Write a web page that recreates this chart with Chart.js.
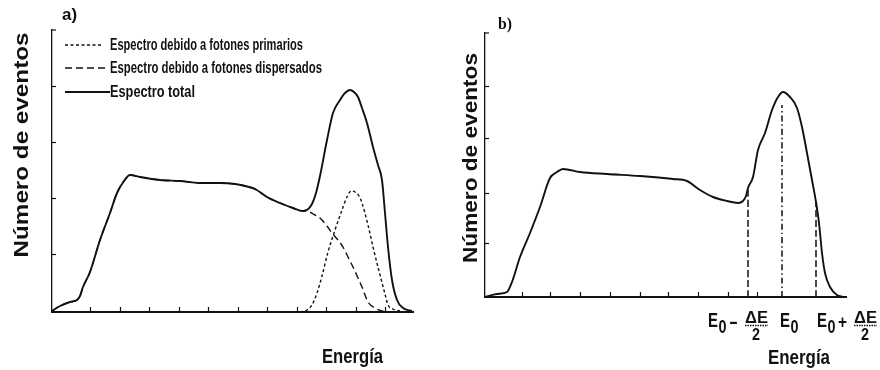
<!DOCTYPE html>
<html><head><meta charset="utf-8">
<script src="https://cdn.jsdelivr.net/npm/chart.js@4.4.1/dist/chart.umd.min.js"></script>
<style>
html,body{margin:0;padding:0;background:#fff;width:880px;height:370px;overflow:hidden}
.box{position:absolute;top:0;width:440px;height:370px}
#ba{left:0}#bb{left:440px}
</style></head><body>
<div class="box" id="ba"><canvas id="ca" width="440" height="370"></canvas></div>
<div class="box" id="bb"><canvas id="cb" width="440" height="370"></canvas></div>
<script>
// ---------- Panel a) ----------
const energyTotalA = [0,8,18,25,28,31,38,48,58,65,72,78,88,108,128,148,168,183,193,203,215,228,241,251,255,260,264,268,275,281,288,293,298,302,306,310,315,321,326,330,333,336,340,345,351,360];
const countsTotalA = [1,6,10,12,16,25,40,72,99,119,131,137,135,132,131,129,129,128,126,123,115,109,104,101,102,108,119,136,172,199,212,219,222,220,215,204,189,165,147,132,99,65,32,12,4,1];
const energyScatA = [0,8,18,25,28,31,38,48,58,65,72,78,88,108,128,148,168,183,193,203,215,228,241,251,255,258,261,268,275,280,286,291,296,301,306,310,316,323,330,336];
const countsScatA = [1,6,10,12,16,25,40,72,99,119,131,137,135,132,131,129,129,128,126,123,115,109,104,101,102,100,98,94,86,79,72,65,55,45,34,25,10,4,1,0];
const energyPrimA = [248,255,260,265,270,276,283,290,295,299,303,307,310,316,321,328,333,336,341,348];
const countsPrimA = [0,2,7,19,36,60,82,102,115,121,120,116,109,87,65,37,18,7,3,1];
const xTicksA = [38,68,97,127,156,186,215,245,274,304,333];
const yTicksA = [58,114,170,226];
const seriesNamesA = ['Espectro debido a fotones primarios','Espectro debido a fotones dispersados','Espectro total'];

// ---------- Panel b) ----------
const energyB = [0,12,22,27,35,45,55,65,72,78,95,122,155,188,202,215,228,242,253,258,261,263,268,273,280,287,293,298,305,312,317,322,327,331,334,337,340,345,352,358];
const countsB = [0,3,5,15,40,64,90,119,125,128,125,123,121,118,116,107,100,96,94,96,101,109,120,147,164,187,200,205,200,189,170,144,117,95,74,44,24,10,2,0];
const markerEnergyB = [263,297,331];
const markerHeightB = [109,192,95];
const markerBase = ['E','E','E'];
const markerSub = ['0','0','0'];
const markerOp = ['-','','+'];
const markerNum = ['ΔE','','ΔE'];
const markerDen = ['2','','2'];
const xTicksB = [37,65,95,125,155,183,213,243,272];
const yTicksB = [54,104,159,211];

const yTitle = 'Número de eventos';
const xTitle = 'Energía';

const zip = (xs, ys) => xs.map((x, i) => ({x, y: ys[i]}));
const INK = '#111111';
const SANS = '"Liberation Sans", Arial, sans-serif';

function drawText(ctx, t) {
  ctx.save();
  ctx.font = t.font;
  ctx.fillStyle = INK;
  ctx.textBaseline = 'alphabetic';
  ctx.textAlign = 'left';
  const m = ctx.measureText(t.t).width;
  const sx = t.w ? t.w / m : 1;
  ctx.translate(t.x, t.y);
  if (t.rot) ctx.rotate(t.rot);
  ctx.scale(sx, 1);
  ctx.fillText(t.t, t.center ? -m / 2 : 0, 0);
  ctx.restore();
}

const decor = {
  id: 'decor',
  afterDraw(chart, args, o) {
    const ctx = chart.ctx, xs = chart.scales.x, ys = chart.scales.y;
    ctx.save();
    ctx.strokeStyle = INK;
    ctx.lineWidth = 1.2;
    (o.ticksX || []).forEach(v => {
      const p = Math.round(xs.getPixelForValue(v)) + 0.5;
      ctx.beginPath(); ctx.moveTo(p, ys.bottom); ctx.lineTo(p, ys.bottom - 5); ctx.stroke();
    });
    (o.ticksY || []).forEach(v => {
      const p = Math.round(ys.getPixelForValue(v)) + 0.5;
      ctx.beginPath(); ctx.moveTo(xs.left, p); ctx.lineTo(xs.left + 4, p); ctx.stroke();
    });
    ctx.beginPath(); ctx.moveTo(xs.left, ys.top); ctx.lineTo(xs.left + 4, ys.top); ctx.stroke();
    ctx.restore();
    (o.texts || []).forEach(t => drawText(ctx, t));
    if (o.legend) {
      const L = o.legend;
      chart.data.datasets.forEach((ds, i) => {
        if (ds.legendSkip) return;
        const y = L.rows[i];
        ctx.save();
        ctx.strokeStyle = INK;
        ctx.lineWidth = ds.borderWidth;
        ctx.setLineDash(ds.borderDash || []);
        ctx.beginPath(); ctx.moveTo(L.x, y); ctx.lineTo(L.ends[i], y); ctx.stroke();
        ctx.restore();
        drawText(ctx, {t: ds.label, x: L.textX, y: y + 5, font: 'bold 16px ' + SANS, w: L.widths[i]});
      });
    }
    if (o.markers) {
      const M = o.markers;
      M.energy.forEach((e, i) => {
        const x0 = xs.getPixelForValue(e) + M.dx[i];
        const by = M.baseline;
        drawText(ctx, {t: markerBase[i], x: x0, y: by, font: 'bold 21px ' + SANS, w: 10});
        drawText(ctx, {t: markerSub[i], x: x0 + 10.5, y: by + 6, font: 'bold 18px ' + SANS, w: 8});
        if (markerOp[i]) drawText(ctx, {t: markerOp[i], x: x0 + 21, y: by + 1, font: 'bold 18px ' + SANS, w: 9});
        if (markerNum[i]) {
          const fx = x0 + 37;
          drawText(ctx, {t: markerNum[i], x: fx, y: by - 4, font: 'bold 17px ' + SANS, w: 23});
          ctx.save(); ctx.strokeStyle = INK; ctx.lineWidth = 1.4; ctx.setLineDash([1.5, 1]);
          ctx.beginPath(); ctx.moveTo(fx, by - 1.5); ctx.lineTo(fx + 23, by - 1.5); ctx.stroke(); ctx.restore();
          drawText(ctx, {t: markerDen[i], x: fx + 7, y: by + 13, font: 'bold 17px ' + SANS, w: 8});
        }
      });
    }
  }
};
Chart.register(decor);

function baseOptions(pad, xmax, ymax, dec) {
  return {
    responsive: false, animation: false,
    layout: {padding: pad},
    elements: {point: {radius: 0}, line: {cubicInterpolationMode: 'monotone'}},
    scales: {
      x: {type: 'linear', min: 0, max: xmax, grid: {display: false, drawTicks: false}, ticks: {display: false},
          border: {display: true, color: INK, width: 2}},
      y: {type: 'linear', min: 0, max: ymax, grid: {display: false, drawTicks: false}, ticks: {display: false},
          border: {display: true, color: INK, width: 1.3}}
    },
    plugins: {legend: {display: false}, tooltip: {enabled: false}, decor: dec}
  };
}

// Chart a)
new Chart(document.getElementById('ca'), {
  type: 'line',
  data: {datasets: [
    {label: seriesNamesA[0], data: zip(energyPrimA, countsPrimA), borderColor: INK, borderWidth: 1.4, borderDash: [3, 2.5]},
    {label: seriesNamesA[1], data: zip(energyScatA, countsScatA), borderColor: INK, borderWidth: 1.4, borderDash: [7, 4]},
    {label: seriesNamesA[2], data: zip(energyTotalA, countsTotalA), borderColor: INK, borderWidth: 1.9}
  ]},
  options: baseOptions({left: 52, top: 30, right: 27, bottom: 58}, 361, 282, {
    ticksX: xTicksA, ticksY: yTicksA,
    legend: {x: 65, ends: [103, 105, 110], textX: 110, rows: [45, 68, 92], widths: [193, 212, 85]},
    texts: [
      {t: 'a)', x: 62, y: 20, font: 'bold 16px ' + SANS, w: 15},
      {t: yTitle, x: 28, y: 145, font: 'bold 21px ' + SANS, w: 225, rot: -Math.PI / 2, center: true},
      {t: xTitle, x: 322, y: 363, font: 'bold 21px ' + SANS, w: 61}
    ]
  })
});

// Chart b)
const markerSets = markerEnergyB.map((e, i) => ({
  data: [{x: e, y: 0}, {x: e, y: markerHeightB[i]}],
  borderColor: INK, borderWidth: 1.5, borderDash: i === 1 ? [6, 3, 1.5, 3] : [7, 3], legendSkip: true
}));
new Chart(document.getElementById('cb'), {
  type: 'line',
  data: {datasets: [
    {label: 'Espectro', data: zip(energyB, countsB), borderColor: INK, borderWidth: 1.9, legendSkip: true},
    ...markerSets
  ]},
  options: baseOptions({left: 45, top: 33, right: 34, bottom: 73}, 361, 264, {
    ticksX: xTicksB, ticksY: yTicksB,
    markers: {energy: markerEnergyB, dx: [-40, -2, 1], baseline: 327},
    texts: [
      {t: 'b)', x: 58, y: 29, font: 'bold 17px "Liberation Serif", serif', w: 14},
      {t: yTitle, x: 37, y: 158, font: 'bold 21px ' + SANS, w: 210, rot: -Math.PI / 2, center: true},
      {t: xTitle, x: 328, y: 364, font: 'bold 21px ' + SANS, w: 62}
    ]
  })
});
</script>
</body></html>
